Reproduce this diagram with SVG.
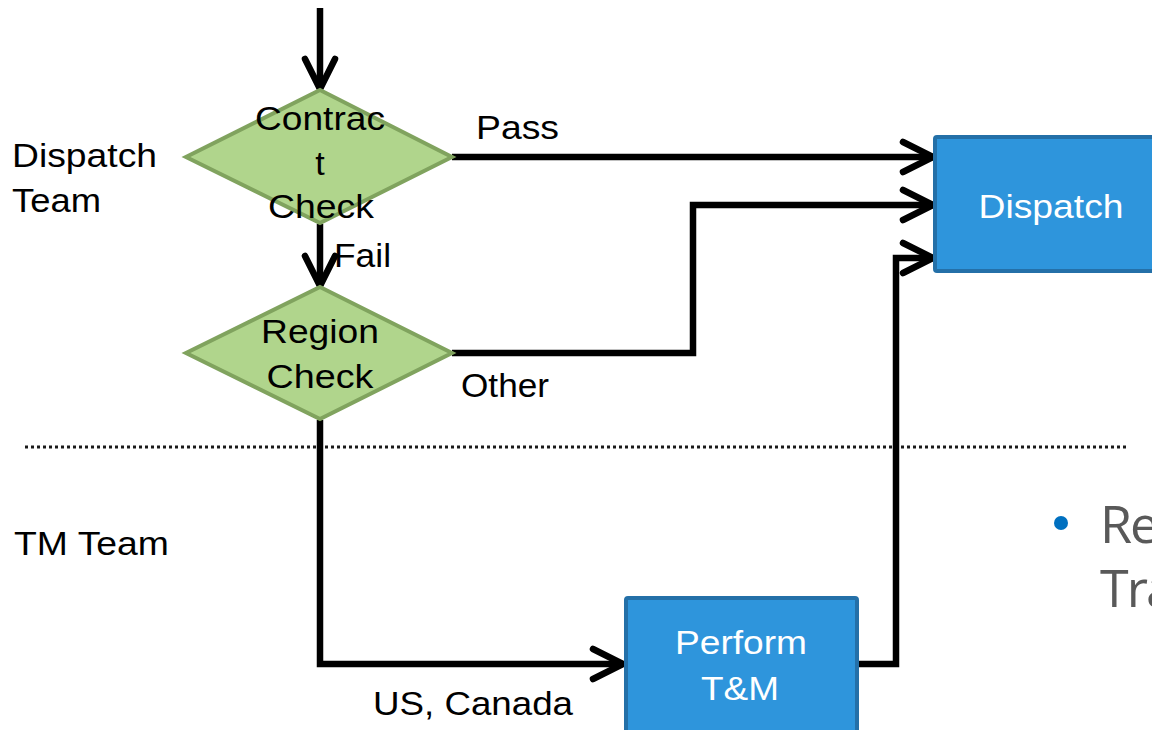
<svg xmlns="http://www.w3.org/2000/svg" width="1152" height="730" viewBox="0 0 1152 730">
  <style>
    .lbl { font-family: "Liberation Sans", Arial, sans-serif; font-size: 34px; fill: #000; }
    .box-txt { font-family: "Liberation Sans", Arial, sans-serif; font-size: 34px; fill: #fff; text-anchor: middle; }
    .dia-txt { font-family: "Liberation Sans", Arial, sans-serif; font-size: 34px; fill: #000; text-anchor: middle; }
    .diamond { fill: #B0D58C; stroke: #80A35E; stroke-width: 4; stroke-linejoin: miter; }
    .box { fill: #2E95DC; stroke: #2470A8; stroke-width: 4; }
    .flow { fill: none; stroke: #000; stroke-width: 6.5; stroke-linejoin: miter; }
    .bullet-txt { font-family: "Open Sans", "Liberation Sans", sans-serif; font-size: 52px; fill: #595959; letter-spacing: -2px; }
  </style>
  <defs>
    <marker id="chev" markerUnits="userSpaceOnUse" viewBox="-40 -22 46 44" refX="0" refY="0" markerWidth="46" markerHeight="44" orient="auto" overflow="visible">
      <path d="M-30,-15 L0,0 L-30,15" fill="none" stroke="#000" stroke-width="6.5" stroke-linecap="round" stroke-linejoin="miter"/>
    </marker>
  </defs>

  <rect width="1152" height="730" fill="#fff"/>

  <!-- swimlane labels and divider -->
  <g id="lanes">
    <text class="lbl" x="12" y="167" textLength="145" lengthAdjust="spacingAndGlyphs">Dispatch</text>
    <text class="lbl" x="12" y="212" textLength="89" lengthAdjust="spacingAndGlyphs">Team</text>
    <text class="lbl" x="14" y="555" textLength="155" lengthAdjust="spacingAndGlyphs">TM Team</text>
    <line x1="25" y1="447" x2="1128" y2="447" stroke="#1a1a1a" stroke-width="3" stroke-dasharray="3 3"/>
  </g>

  <!-- connectors -->
  <g id="connectors">
    <path class="flow" d="M320,8 L320,89" marker-end="url(#chev)"/>
    <path class="flow" d="M452,157 L933,157" marker-end="url(#chev)"/>
    <path class="flow" d="M320,224 L320,286" marker-end="url(#chev)"/>
    <path class="flow" d="M452,353 L693,353 L693,205 L933,205" marker-end="url(#chev)"/>
    <path class="flow" d="M320,420 L320,664 L623,664" marker-end="url(#chev)"/>
    <path class="flow" d="M858,664 L896,664 L896,258 L933,258" marker-end="url(#chev)"/>
    <text class="lbl" x="476" y="139" textLength="83" lengthAdjust="spacingAndGlyphs">Pass</text>
    <text class="lbl" x="334" y="267" textLength="57" lengthAdjust="spacingAndGlyphs">Fail</text>
    <text class="lbl" x="461" y="397" textLength="88" lengthAdjust="spacingAndGlyphs">Other</text>
    <text class="lbl" x="373" y="715" textLength="200" lengthAdjust="spacingAndGlyphs">US, Canada</text>
  </g>

  <g id="contract-check">
    <polygon class="diamond" points="320,90 452,157 320,223 186,157"/>
    <text class="dia-txt" x="320" y="130" textLength="130" lengthAdjust="spacingAndGlyphs">Contrac</text>
    <text class="dia-txt" x="320" y="175">t</text>
    <text class="dia-txt" x="321" y="218" textLength="106" lengthAdjust="spacingAndGlyphs">Check</text>
  </g>

  <g id="region-check">
    <polygon class="diamond" points="320,287 452,353 320,419 186,353"/>
    <text class="dia-txt" x="320" y="343" textLength="118" lengthAdjust="spacingAndGlyphs">Region</text>
    <text class="dia-txt" x="320" y="388" textLength="107" lengthAdjust="spacingAndGlyphs">Check</text>
  </g>

  <g id="dispatch">
    <rect class="box" x="935" y="137" width="240" height="134" rx="2"/>
    <text class="box-txt" x="1051" y="218" textLength="145" lengthAdjust="spacingAndGlyphs">Dispatch</text>
  </g>

  <g id="perform-tm">
    <rect class="box" x="626" y="598" width="231" height="150" rx="2"/>
    <text class="box-txt" x="741" y="654" textLength="132" lengthAdjust="spacingAndGlyphs">Perform</text>
    <text class="box-txt" x="740" y="700" textLength="78" lengthAdjust="spacingAndGlyphs">T&amp;M</text>
  </g>

  <g id="note">
    <circle cx="1061" cy="523" r="7" fill="#0070C0"/>
    <text class="bullet-txt" x="1100" y="543">Re</text>
    <text class="bullet-txt" x="1100" y="607">Tra</text>
  </g>
</svg>
